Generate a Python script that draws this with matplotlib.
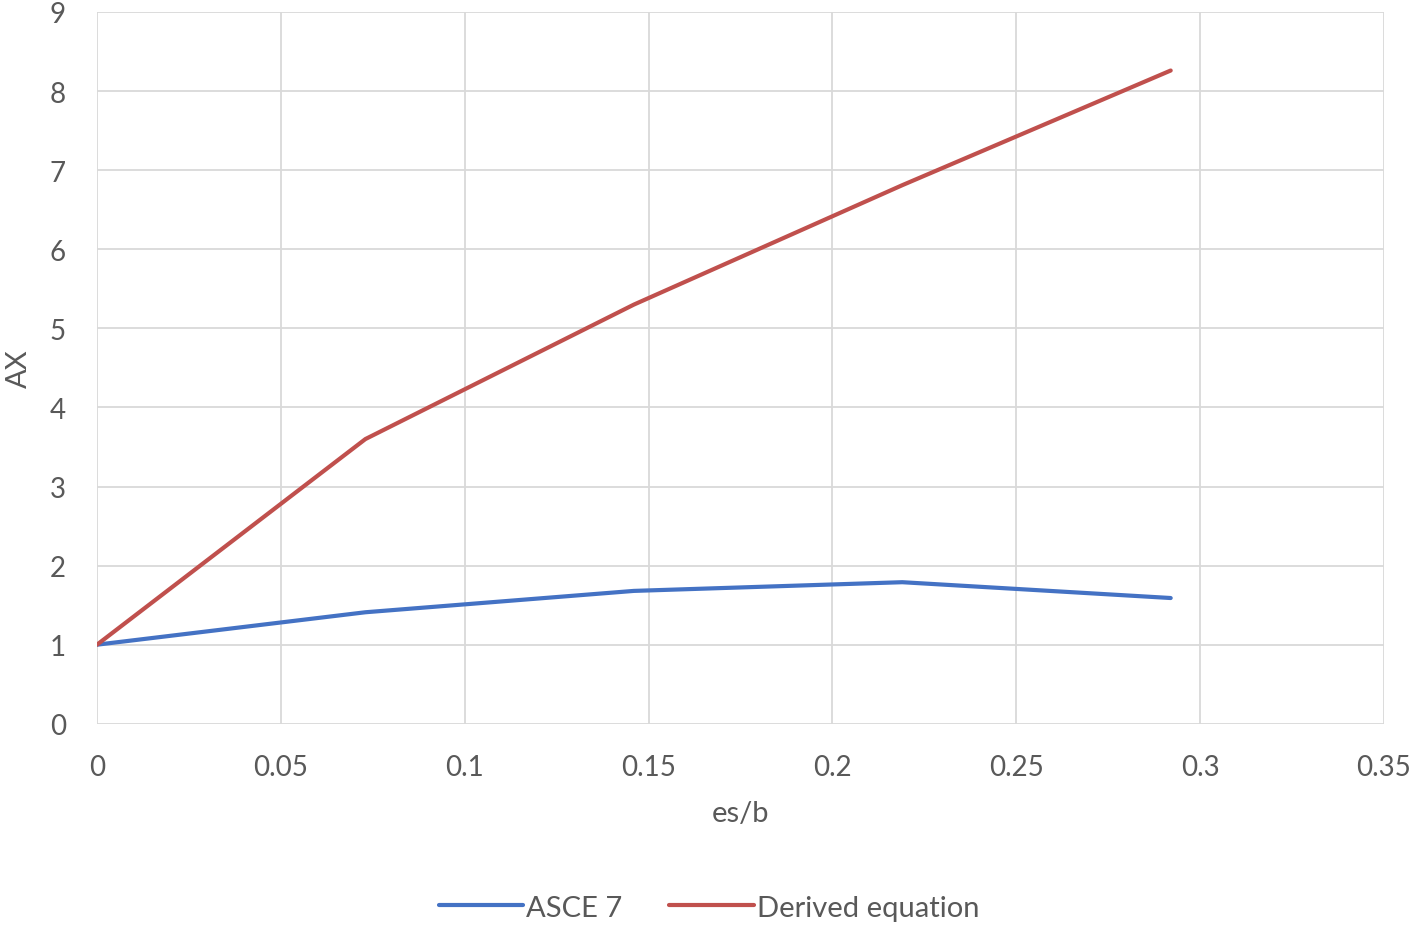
import numpy as np
import matplotlib.pyplot as plt

plt.rcParams['font.family'] = ['Lato', 'DejaVu Sans']

es_b = [0, 0.073, 0.146, 0.219, 0.292]
asce7 = [1.0, 1.41, 1.68, 1.79, 1.59]
derived = [1.0, 3.60, 5.30, 6.81, 8.26]

fig = plt.figure(figsize=(14.18, 9.28), dpi=100)
ax = fig.add_axes([0.0684, 0.219, 0.9076, 0.767])

ax.plot(es_b, asce7, color='#4472C4', lw=3, label='ASCE 7', solid_capstyle='round')
ax.plot(es_b, derived, color='#C0504D', lw=3, label='Derived equation', solid_capstyle='round')

ax.set_xlim(0, 0.35)
ax.set_ylim(0, 9)
ax.set_xticks(np.arange(0, 0.351, 0.05))
ax.set_xticklabels(['0', '0.05', '0.1', '0.15', '0.2', '0.25', '0.3', '0.35'])
ax.set_yticks(range(10))
ax.grid(True, color='#D9D9D9', lw=1.3)
ax.set_axisbelow(True)
for s in ax.spines.values():
    s.set_visible(False)
ax.tick_params(length=0, labelsize=20, colors='#595959')
ax.tick_params(axis='x', pad=22)
ax.tick_params(axis='y', pad=34)
for lab in ax.get_yticklabels():
    lab.set_horizontalalignment('left')

ax.set_xlabel('es/b', fontsize=21, color='#595959', labelpad=14)
ax.set_ylabel('AX', fontsize=21, color='#595959', labelpad=13)

leg = fig.legend(loc='center', bbox_to_anchor=(0.5, 0.021), ncol=2, frameon=False,
                 fontsize=21, handlelength=2.9, handletextpad=0.1, columnspacing=1.6,
                 labelcolor='#595959')

fig.savefig('out.png', dpi=100)
